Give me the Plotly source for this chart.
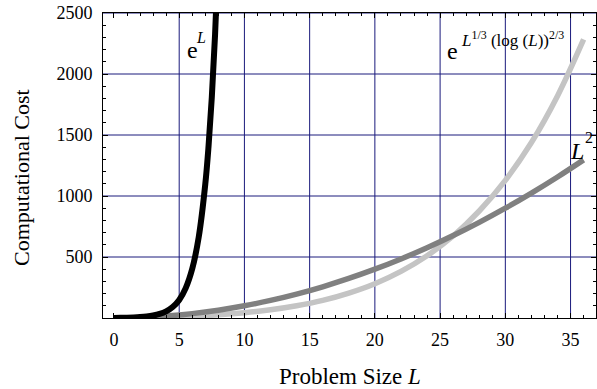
import plotly.graph_objects as go

# ---- data ----
L_exp = [0, 0.5, 1, 1.5, 2, 2.5, 3, 3.5, 4, 4.5, 5, 5.5, 6, 6.5, 7, 7.25, 7.5, 7.75, 8]
cost_exp = [1, 1.65, 2.72, 4.48, 7.39, 12.2, 20.1, 33.1, 54.6, 90.0, 148, 245, 403, 665, 1097, 1408, 1808, 2322, 2981]

L_sq = [0, 2, 4, 6, 8, 10, 12, 14, 16, 18, 20, 22, 24, 26, 28, 30, 32, 34, 36]
cost_sq = [0, 4, 16, 36, 64, 100, 144, 196, 256, 324, 400, 484, 576, 676, 784, 900, 1024, 1156, 1296]

L_sub = [1, 2, 4, 6, 8, 10, 12, 14, 16, 18, 20, 22, 24, 26, 28, 30, 32, 34, 36]
cost_sub = [1, 2.7, 7.2, 14.6, 26, 43, 67, 100, 144, 204, 281, 382, 510, 672, 877, 1128, 1438, 1820, 2283]

x_ticks = [0, 5, 10, 15, 20, 25, 30, 35]
y_ticks = [500, 1000, 1500, 2000, 2500]
grid_x = [5, 10, 15, 20, 25, 30, 35]
grid_y = [500, 1000, 1500, 2000, 2500]
x_minor = list(range(0, 37))
y_minor = list(range(0, 2501, 100))

FONT = "Liberation Serif"
GRID = "#1a1a7c"
PL, PR, PT, PB = 103, 596, 13, 318

fig = go.Figure()
fig.add_trace(go.Scatter(x=L_sub, y=cost_sub, mode="lines", line=dict(color="#c4c4c4", width=5.5, shape="spline")))
fig.add_trace(go.Scatter(x=L_sq, y=cost_sq, mode="lines", line=dict(color="#808080", width=5.5, shape="spline")))
fig.add_trace(go.Scatter(x=L_exp, y=cost_exp, mode="lines", line=dict(color="#000000", width=6, shape="spline")))

shapes = []
for gx in grid_x:
    shapes.append(dict(type="line", xref="x", yref="paper", x0=gx, x1=gx, y0=0, y1=1,
                       line=dict(color=GRID, width=1), layer="below"))
for gy in grid_y:
    shapes.append(dict(type="line", xref="paper", yref="y", x0=0, x1=1, y0=gy, y1=gy,
                       line=dict(color=GRID, width=1), layer="below"))

fig.update_layout(
    width=597, height=389,
    margin=dict(l=PL, r=597 - PR, t=PT, b=389 - PB, autoexpand=False),
    paper_bgcolor="white", plot_bgcolor="white",
    showlegend=False,
    shapes=shapes,
    font=dict(family=FONT, color="black", size=18),
)

def pa(text, px, py, size, xanchor="center", yanchor="middle", angle=0):
    xp = (px - PL) / (PR - PL)
    yp = (PB - py) / (PB - PT)
    fig.add_annotation(text=text, x=xp, y=yp, xref="paper", yref="paper", showarrow=False,
                       font=dict(family=FONT, size=size, color="black"),
                       xanchor=xanchor, yanchor=yanchor, textangle=angle)

pa("e", 192, 50, 24)
pa("<i>L</i>", 201, 37, 16)
pa("e", 452, 51, 24)
pa("<i>L</i><sup>1/3</sup> (log (<i>L</i>))<sup>2/3</sup>", 459, 39, 17, xanchor="left")
pa("<i>L</i>", 577, 151, 24)
pa("2", 589, 137, 16)
pa("Problem Size <i>L</i>", 350, 376, 23)
pa("Computational Cost", 22, 178, 22, angle=-90)

fig.update_xaxes(range=[-0.84, 36.95], tickvals=x_ticks, showgrid=False, zeroline=False,
                 showline=True, linecolor="black", linewidth=1, mirror="allticks",
                 ticks="inside", ticklen=5, tickcolor="black", ticklabelstandoff=5,
                 minor=dict(tickmode="array", tickvals=x_minor, ticks="inside", ticklen=3,
                            tickcolor="black", showgrid=False),
                 tickfont=dict(family=FONT, size=18))
fig.update_yaxes(range=[0, 2500], tickvals=y_ticks, showgrid=False, zeroline=False,
                 showline=True, linecolor="black", linewidth=1, mirror="allticks",
                 ticks="inside", ticklen=5, tickcolor="black", ticklabelstandoff=6,
                 minor=dict(tickmode="array", tickvals=y_minor, ticks="inside", ticklen=3,
                            tickcolor="black", showgrid=False),
                 tickfont=dict(family=FONT, size=18))

fig.write_html("out.html", config={"displayModeBar": False},
               post_script="document.body.style.margin='0';document.body.style.overflow='hidden';")
